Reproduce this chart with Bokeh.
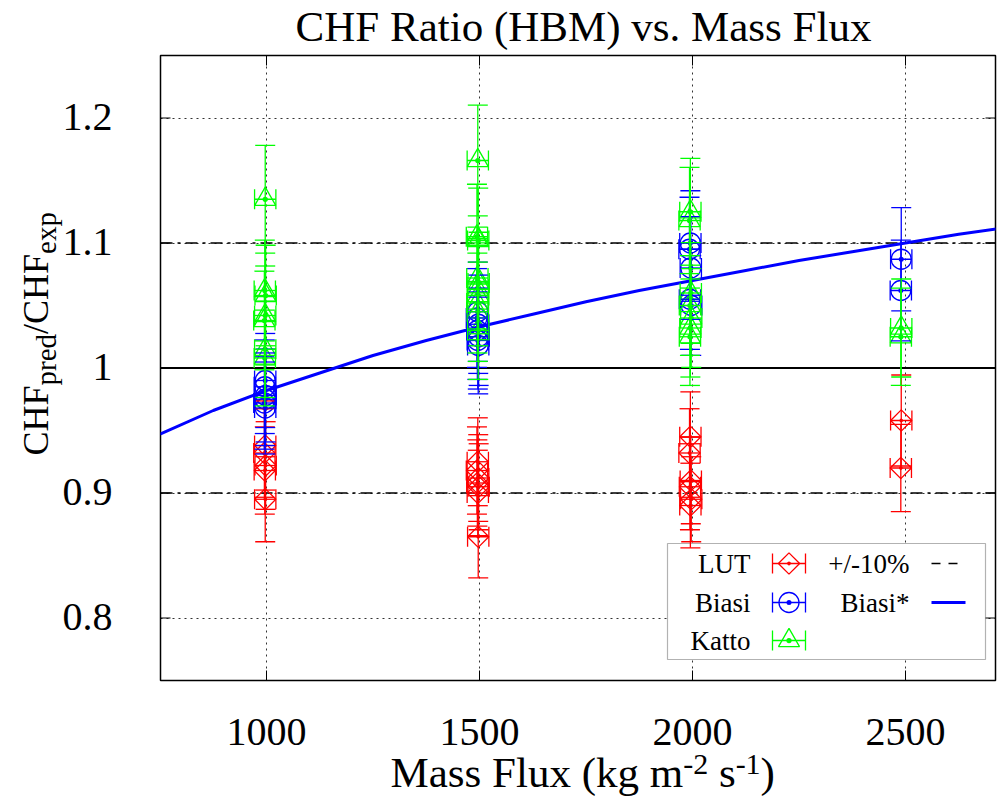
import numpy as np
from bokeh.plotting import figure
from bokeh.layouts import column, row
from bokeh.models import (ColumnDataSource, Whisker, TeeHead, Span, Label,
                          FixedTicker, BoxAnnotation, Range1d)
from bokeh.core.properties import value
from bokeh.embed import file_html
from bokeh.resources import INLINE

# ---------------- data ----------------
TITLE = "CHF Ratio (HBM) vs. Mass Flux"
X_TICKS = [1000, 1500, 2000, 2500]
X_TICK_LABELS = ["1000", "1500", "2000", "2500"]
Y_TICKS = [0.8, 0.9, 1.0, 1.1, 1.2]
Y_TICK_LABELS = ["0.8", "0.9", "1", "1.1", "1.2"]

LUT_G = [997, 995, 998, 996, 997,
         1496, 1494, 1497, 1495, 1498, 1496, 1497,
         1995, 1993, 1996, 1994, 1997, 1995,
         2490, 2489]
LUT_R = [0.938, 0.932, 0.922, 0.918, 0.895,
         0.925, 0.918, 0.912, 0.908, 0.905, 0.900, 0.865,
         0.945, 0.932, 0.910, 0.905, 0.895, 0.890,
         0.958, 0.920]

BIASI_G = [997, 996, 998, 997, 995, 997,
           1496, 1494, 1497, 1495, 1498, 1496, 1497,
           1995, 1993, 1996, 1994, 1997,
           2490, 2489]
BIASI_R = [0.990, 0.985, 0.978, 0.975, 0.972, 0.968,
           1.045, 1.040, 1.035, 1.030, 1.025, 1.022, 1.018,
           1.100, 1.095, 1.080, 1.055, 1.050,
           1.087, 1.062]

KATTO_G = [997, 996, 998, 997, 995, 997, 996,
           1496, 1494, 1497, 1495, 1498, 1496, 1497, 1495, 1496, 1497,
           1995, 1993, 1996, 1994, 1997, 1995, 1994,
           2490, 2489]
KATTO_R = [1.135, 1.062, 1.058, 1.042, 1.038, 1.015, 1.008,
           1.166, 1.105, 1.102, 1.072, 1.068, 1.063, 1.058, 1.052, 1.045, 1.030,
           1.125, 1.118, 1.060, 1.050, 1.040, 1.032, 1.025,
           1.032, 1.025]

G_ERR = 25.0            # mass-flux uncertainty (kg m-2 s-1)
RATIO_REL_ERR = 0.038   # relative uncertainty of the CHF ratio

BIASI_STAR_G = [750, 875, 1000, 1125, 1250, 1375, 1500, 1625, 1750, 1875,
                2000, 2125, 2250, 2375, 2500, 2625, 2750]
BIASI_STAR_R = [0.947, 0.966, 0.982, 0.996, 1.010, 1.022, 1.033, 1.043, 1.053,
                1.062, 1.070, 1.078, 1.086, 1.093, 1.100, 1.107, 1.113]

REF_LEVEL = 1.0
BAND_LEVELS = [0.9, 1.1]

LEGEND_LEFT = ["LUT", "Biasi", "Katto"]
LEGEND_RIGHT = ["+/-10%", "Biasi*"]

X_LABEL_PARTS = [("Mass Flux (kg m", ""), ("-2", "sup"), (" s", ""), ("-1", "sup"), (")", "")]
Y_LABEL_PARTS = [("CHF", ""), ("pred", "sub"), ("/CHF", ""), ("exp", "sub")]

# ---------------- layout constants ----------------
W = 997
TOP_H = 52
LEFT_W = 150
MAIN_W = W - LEFT_W
ML, MR, MT, MB = 10, 2, 3, 5
FW = MAIN_W - ML - MR          # 835
FH = 625
MAIN_H = MT + FH + MB
BOT_H = 802 - TOP_H - MAIN_H
FRAME_LEFT = LEFT_W + ML       # 160 (page px)
FRAME_BOTTOM = TOP_H + MT + FH  # 680 (page px)
X0 = 1000.0 - 106 * 500.0 / 213.0
X1 = X0 + FW * 500.0 / 213.0
Y0, Y1 = 0.75, 1.25
SERIF = "Liberation Serif"
RED, BLUE, GREEN = "#ff0000", "#0000ff", "#00ff00"
BASE_SHIFT = 0.35   # empirical baseline correction (fraction of font size)
TICK_F = 40

DXU = (X1 - X0) / FW
DYU = (Y1 - Y0) / FH


def px_to_x(px):
    return X0 + px * DXU


def px_to_y(py):
    return Y0 + py * DYU


# ---------------- main plot ----------------
p = figure(width=MAIN_W, height=MAIN_H, x_range=Range1d(X0, X1), y_range=Range1d(Y0, Y1),
           output_backend="svg", toolbar_location=None,
           min_border_left=ML, min_border_right=MR, min_border_top=MT,
           min_border_bottom=MB)
p.background_fill_color = "white"
p.border_fill_color = "white"
p.outline_line_color = "black"
p.outline_line_width = 1.5
p.xaxis.visible = False
p.yaxis.visible = False

p.xgrid.ticker = FixedTicker(ticks=X_TICKS)
p.ygrid.ticker = FixedTicker(ticks=Y_TICKS)
for g in (p.xgrid, p.ygrid):
    g.grid_line_color = "black"
    g.grid_line_dash = "2 4"
    g.grid_line_alpha = 0.8
    g.grid_line_width = 1

# inward ticks on all four borders
nx, ny = len(X_TICKS), len(Y_TICKS)
p.segment(x0=X_TICKS * 2, y0=[Y0] * nx + [Y1] * nx, x1=X_TICKS * 2,
          y1=[Y0 + 10 * DYU] * nx + [Y1 - 10 * DYU] * nx,
          line_color="black", line_width=1)
p.segment(x0=[X0] * ny + [X1] * ny, y0=Y_TICKS * 2,
          x1=[X0 + 10 * DXU] * ny + [X1 - 10 * DXU] * ny, y1=Y_TICKS * 2,
          line_color="black", line_width=1)

# reference lines
p.add_layout(Span(location=REF_LEVEL, dimension="width", line_color="black",
                  line_width=2, level="underlay"))
for lv in BAND_LEVELS:
    p.add_layout(Span(location=lv, dimension="width", line_color="black",
                      line_width=1.6, line_dash="12 5 3 5", level="underlay"))


def draw_series(G, R, color, marker, size, angle=0.0):
    G = np.asarray(G, dtype=float)
    R = np.asarray(R, dtype=float)
    src = ColumnDataSource(dict(x=G, y=R, ylo=R * (1 - RATIO_REL_ERR),
                                yhi=R * (1 + RATIO_REL_ERR),
                                xlo=G - G_ERR, xhi=G + G_ERR))
    for dim, base, lo, hi in (("height", "x", "ylo", "yhi"),
                              ("width", "y", "xlo", "xhi")):
        p.add_layout(Whisker(source=src, base=base, lower=lo, upper=hi,
                             dimension=dim, line_color=color, line_width=1.3,
                             level="glyph",
                             lower_head=TeeHead(size=20, line_color=color, line_width=1.3),
                             upper_head=TeeHead(size=20, line_color=color, line_width=1.3)))
    p.scatter("x", "y", source=src, marker=marker, size=size, angle=angle,
              fill_color=None, line_color=color, line_width=1.3)


draw_series(LUT_G, LUT_R, RED, "square_dot", 15, np.pi / 4)
draw_series(BIASI_G, BIASI_R, BLUE, "circle_dot", 20)
draw_series(KATTO_G, KATTO_R, GREEN, "triangle_dot", 21)

p.line(BIASI_STAR_G, BIASI_STAR_R, line_color=BLUE, line_width=3)

# ---------------- legend ----------------
p.add_layout(BoxAnnotation(left=507, right=825, bottom=21, top=137,
                           left_units="screen", right_units="screen",
                           bottom_units="screen", top_units="screen",
                           fill_color="white", fill_alpha=1.0,
                           line_color="black", line_width=1.2, level="underlay"))
ROWS = [117, 78, 40]
LEG_F = "27px"
specs = [(RED, "square_dot", 15, np.pi / 4), (BLUE, "circle_dot", 20, 0.0),
         (GREEN, "triangle_dot", 21, 0.0)]
for name, ry, (col, mk, sz, ang) in zip(LEGEND_LEFT, ROWS, specs):
    p.add_layout(Label(x=590, y=ry, x_units="screen", y_units="screen", text=name,
                       text_font=SERIF, text_font_size=LEG_F, text_align="right",
                       text_baseline="middle", text_color="black"))
    p.segment(x0=[px_to_x(612)], y0=[px_to_y(ry)], x1=[px_to_x(645)], y1=[px_to_y(ry)],
              line_color=col, line_width=1.3)
    p.segment(x0=[px_to_x(612), px_to_x(645)], y0=[px_to_y(ry - 10)] * 2,
              x1=[px_to_x(612), px_to_x(645)], y1=[px_to_y(ry + 10)] * 2,
              line_color=col, line_width=1.3)
    p.scatter([px_to_x(628.5)], [px_to_y(ry)], marker=mk, size=sz, angle=ang,
              fill_color=None, line_color=col, line_width=1.3)

for name, ry in zip(LEGEND_RIGHT, ROWS[:2]):
    p.add_layout(Label(x=749, y=ry, x_units="screen", y_units="screen", text=name,
                       text_font=SERIF, text_font_size=LEG_F, text_align="right",
                       text_baseline="middle", text_color="black"))
p.line([px_to_x(771), px_to_x(797)], [px_to_y(ROWS[0])] * 2, line_color="black",
       line_width=1.5, line_dash="9 8")
p.line([px_to_x(771), px_to_x(805)], [px_to_y(ROWS[1])] * 2, line_color=BLUE, line_width=3)


# ---------------- text panels (title, tick labels, axis labels) ----------------
def text_panel(w, h, x_range, y_range, bl=0, br=0, bt=0, bb=0):
    f = figure(width=w, height=h, x_range=x_range, y_range=y_range,
               output_backend="svg", toolbar_location=None,
               x_axis_type=None, y_axis_type=None,
               min_border_left=bl, min_border_right=br, min_border_top=bt,
               min_border_bottom=bb)
    f.outline_line_color = None
    f.background_fill_color = "white"
    f.border_fill_color = "white"
    f.xgrid.visible = False
    f.ygrid.visible = False
    return f


TW = {' ': 250, 'M': 889, 'a': 444, 's': 389, 'F': 556, 'l': 278, 'u': 500, 'x': 500,
      '(': 333, ')': 333, 'k': 500, 'g': 500, 'm': 778, '-': 333, '2': 500, '1': 500,
      'C': 667, 'H': 722, '/': 278, 'p': 500, 'r': 333, 'e': 444, 'd': 500}


def tw(s, size):
    return sum(TW.get(c, 500) for c in s) / 1000.0 * size


def put(fig, x, y, text, size, align="left", rotated=False, xs=1.0, ys=1.0):
    if rotated:
        x = x - BASE_SHIFT * size * xs
    else:
        y = y + BASE_SHIFT * size * ys
    fig.text(x=[x], y=[y], text=[text], angle=(np.pi / 2 if rotated else 0.0),
             text_font=value(SERIF), text_font_size=value(f"{size}px"),
             text_align=value(align), text_baseline=value("alphabetic"),
             text_color="black")


# title panel (x in data units aligned with the main frame, y in px)
top = text_panel(W, TOP_H, p.x_range, Range1d(0, TOP_H), bl=FRAME_LEFT, br=MR)
put(top, px_to_x(583 - FRAME_LEFT), TOP_H - 41, TITLE, 43, align="center")

# left panel: y tick labels + rotated y label (y in data units)
left = text_panel(LEFT_W, MAIN_H, Range1d(0, LEFT_W), p.y_range, bt=MT, bb=MB)
for t, lab in zip(Y_TICKS, Y_TICK_LABELS):
    put(left, 112, t - 13 * DYU, lab, TICK_F, align="right", ys=DYU)
YF, YS = 36, 29
cy = px_to_y(FRAME_BOTTOM - 455)
for txt, kind in Y_LABEL_PARTS:
    sz = YS if kind == "sub" else YF
    put(left, 48 + (8 if kind == "sub" else 0), cy, txt, sz, rotated=True)
    cy += tw(txt, sz) * DYU

# bottom panel: x tick labels + x label (x in data units, y in px)
bottom = text_panel(W, BOT_H, p.x_range, Range1d(0, BOT_H), bl=FRAME_LEFT, br=MR)
for t, lab in zip(X_TICKS, X_TICK_LABELS):
    put(bottom, t, 802 - 745, lab, TICK_F, align="center")
XF, XS = 43, 30
cx = 390 - FRAME_LEFT
for txt, kind in X_LABEL_PARTS:
    sz = XS if kind == "sup" else XF
    lead = len(txt) - len(txt.lstrip(" "))
    cx += tw(" " * lead, sz)
    body = txt.lstrip(" ")
    put(bottom, px_to_x(cx), 802 - 787 + (13 if kind == "sup" else 0), body, sz)
    cx += tw(body, sz)

layout = column(top, row(left, p, spacing=0), bottom, spacing=0)

open("out.html", "w").write(file_html(layout, INLINE))
